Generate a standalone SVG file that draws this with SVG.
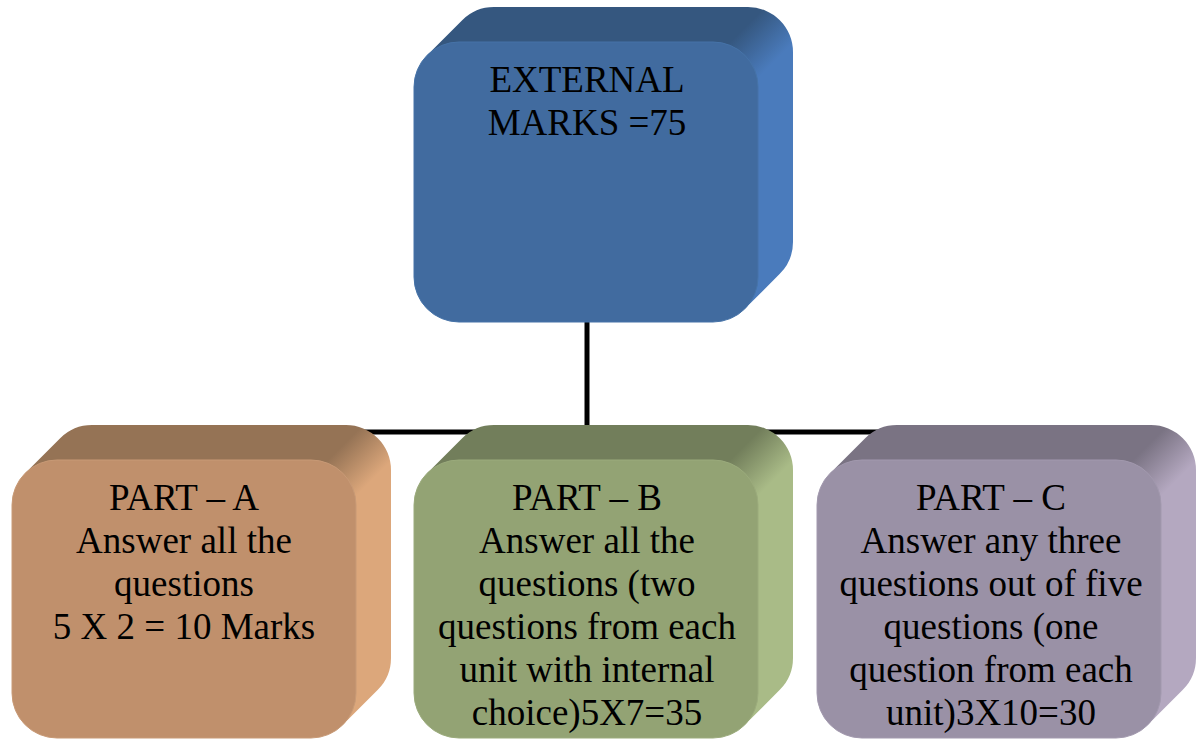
<svg xmlns="http://www.w3.org/2000/svg" width="1202" height="741" viewBox="0 0 1202 741">
<style>
.lbl{font-family:"Liberation Serif","Times New Roman",serif;font-size:37px;fill:#000;text-anchor:middle}
.conn{stroke:#000;stroke-width:5;fill:none}
</style>
<defs>
<linearGradient id="gTop" gradientUnits="userSpaceOnUse" x1="758" y1="14" x2="790" y2="46"><stop offset="0" stop-color="#35577f"/><stop offset="1" stop-color="#4a7bbc"/></linearGradient>
<linearGradient id="gA" gradientUnits="userSpaceOnUse" x1="356" y1="432" x2="388" y2="464"><stop offset="0" stop-color="#957355"/><stop offset="1" stop-color="#dca77b"/></linearGradient>
<linearGradient id="gB" gradientUnits="userSpaceOnUse" x1="758" y1="432" x2="790" y2="464"><stop offset="0" stop-color="#727e5b"/><stop offset="1" stop-color="#a9bb87"/></linearGradient>
<linearGradient id="gC" gradientUnits="userSpaceOnUse" x1="1161" y1="432" x2="1193" y2="464"><stop offset="0" stop-color="#7a7383"/><stop offset="1" stop-color="#b4a8c0"/></linearGradient>
</defs>
<rect width="1202" height="741" fill="#fff"/>
<g id="connectors">
<line class="conn" x1="587" y1="320" x2="587" y2="432"/>
<line class="conn" x1="200" y1="432" x2="990" y2="432"/>
</g>
<g id="node-external">
<path fill="url(#gTop)" d="M427.18,55.18 L462.18,20.18 A45,45 0 0 1 494,7 L748,7 A45,45 0 0 1 793,52 L793,242 A45,45 0 0 1 779.82,273.82 L744.82,308.82 Z"/>
<rect x="414" y="42" width="344" height="280" rx="45" fill="#416b9f" stroke="#4673a8" stroke-width="1"/>
<text class="lbl"><tspan x="587" y="92">EXTERNAL</tspan><tspan x="587" y="135">MARKS =75</tspan></text>
</g>
<g id="node-part-a">
<path fill="url(#gA)" d="M25.18,473.18 L60.18,438.18 A45,45 0 0 1 92,425 L346,425 A45,45 0 0 1 391,470 L391,658 A45,45 0 0 1 377.82,689.82 L342.82,724.82 Z"/>
<rect x="12" y="460" width="344" height="278" rx="45" fill="#c0906c" stroke="#c89a76" stroke-width="1"/>
<text class="lbl"><tspan x="184" y="510">PART – A</tspan><tspan x="184" y="553">Answer all the</tspan><tspan x="184" y="596">questions</tspan><tspan x="184" y="639">5 X 2 = 10 Marks</tspan></text>
</g>
<g id="node-part-b">
<path fill="url(#gB)" d="M427.18,473.18 L462.18,438.18 A45,45 0 0 1 494,425 L748,425 A45,45 0 0 1 793,470 L793,658 A45,45 0 0 1 779.82,689.82 L744.82,724.82 Z"/>
<rect x="414" y="460" width="344" height="278" rx="45" fill="#93a374" stroke="#9bab7c" stroke-width="1"/>
<text class="lbl"><tspan x="587" y="510">PART – B</tspan><tspan x="587" y="553">Answer all the</tspan><tspan x="587" y="596">questions (two</tspan><tspan x="587" y="639">questions from each</tspan><tspan x="587" y="682">unit with internal</tspan><tspan x="587" y="725">choice)5X7=35</tspan></text>
</g>
<g id="node-part-c">
<path fill="url(#gC)" d="M830.18,473.18 L865.18,438.18 A45,45 0 0 1 897,425 L1151,425 A45,45 0 0 1 1196,470 L1196,658 A45,45 0 0 1 1182.82,689.82 L1147.82,724.82 Z"/>
<rect x="817" y="460" width="344" height="278" rx="45" fill="#9a91a6" stroke="#a299ae" stroke-width="1"/>
<text class="lbl"><tspan x="991" y="510">PART – C</tspan><tspan x="991" y="553">Answer any three</tspan><tspan x="991" y="596">questions out of five</tspan><tspan x="991" y="639">questions (one</tspan><tspan x="991" y="682">question from each</tspan><tspan x="991" y="725">unit)3X10=30</tspan></text>
</g>
</svg>
